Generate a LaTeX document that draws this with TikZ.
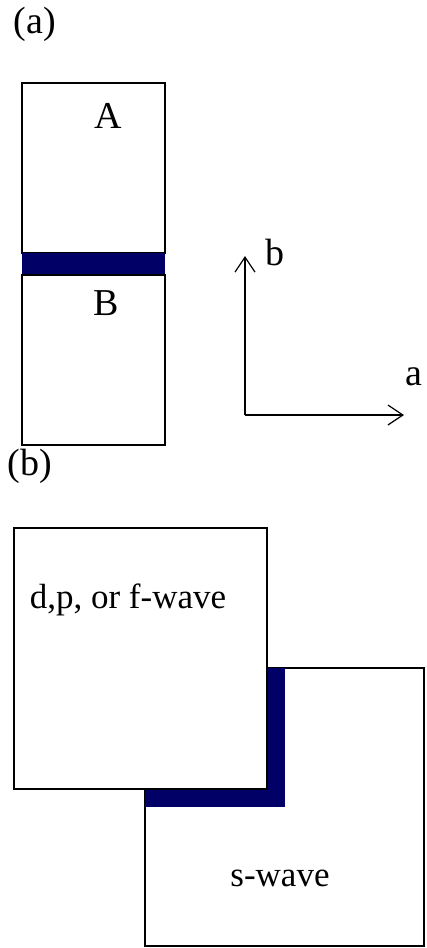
\documentclass[tikz,border=0pt]{standalone}
\usepackage{fontspec}
\setmainfont{Liberation Serif}
\usepackage{xcolor}
\usepackage{tikz}
\usetikzlibrary{arrows.meta,positioning,calc}

\definecolor{bandnavy}{RGB}{0,0,102}

\begin{document}
\begin{tikzpicture}[x=1pt,y=-1pt,
    box/.style={draw=black, line width=1.5pt, fill=white},
    lbl/.style={inner sep=0pt, font=\fontsize{38}{40}\selectfont},
    wave/.style={inner sep=0pt, font=\fontsize{35}{38}\selectfont},
    axis/.style={line width=1.2pt, -{Straight Barb[length=15pt,width=20pt,line width=1.2pt]}}]
\useasboundingbox (0,0) rectangle (427,948);

% Panel (a)
\node[lbl] (pa) at (35,24) {(a)};
\draw[box] (22,83) rectangle (165,253);
\fill[bandnavy] (22,253) rectangle (165,275);
\draw[box] (22,275) rectangle (165,445);
\node[lbl] (A) at (108,116) {A};
\node[lbl] (B) at (106,303) {B};

% Axes
\coordinate (o) at (245,415);
\coordinate (btip) at (245,256);
\coordinate (atip) at (404,415);
\draw[axis] (o) -- (btip);
\draw[axis] (o) -- (atip);
\node[lbl] (lb) at (275,252) {b};
\node[lbl] (la) at (414,377) {a};

% Panel (b)
\node[lbl] (pb) at (30,466) {(b)};
\draw[box] (145,668) rectangle (424,946);
\fill[bandnavy] (145,668) rectangle (285,807);
\draw[box] (14,528) rectangle (267,789);
\node[wave] (dw) at (128,600) {d,p, or f-wave};
\node[wave] (sw) at (280,878) {s-wave};
\end{tikzpicture}
\end{document}
